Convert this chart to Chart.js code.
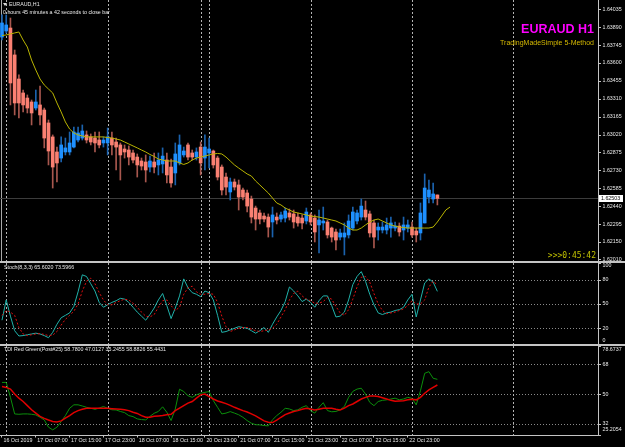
<!DOCTYPE html>
<html>
<head>
<meta charset="utf-8">
<title>EURAUD H1</title>
<script src="https://cdn.jsdelivr.net/npm/chart.js@4.4.1/dist/chart.umd.min.js"></script>
<style>
  html, body { margin: 0; padding: 0; background: #000; }
  body { position: relative; width: 625px; height: 447px; overflow: hidden; font-family: "Liberation Sans", Arial, sans-serif; }
  canvas { position: absolute; left: 0; }
  .txt { position: absolute; white-space: nowrap; line-height: 1; color: #e8e8e8; font-size: 5.3px; }
  .sep { position: absolute; left: 0; width: 625px; height: 2px; background: #c4c4c4; }
</style>
</head>
<body>
<canvas id="chartMain" width="625" height="261" style="top:0"></canvas>
<div class="sep" style="top:261px"></div>
<canvas id="chartStoch" width="625" height="81" style="top:263px"></canvas>
<div class="sep" style="top:344px"></div>
<canvas id="chartTdi" width="625" height="101" style="top:346px"></canvas>

<div style="position:absolute;left:3px;top:3px;width:0;height:0;border-left:2px solid transparent;border-right:2px solid transparent;border-top:3px solid #ddd"></div>
<div class="txt" style="left:9px;top:1.9px">EURAUD,H1</div>
<div class="txt" style="left:3px;top:10.2px">0 hours 45 minutes a 42 seconds to close bar</div>
<div class="txt" style="right:31px;top:22.7px;font-size:12.5px;font-weight:bold;color:#ff00ff">EURAUD H1</div>
<div class="txt" style="right:31px;top:39.1px;font-size:7px;color:#d4b800">TradingMadeSimple 5-Method</div>
<div class="txt" style="right:29px;top:252.2px;font-size:8px;font-family:'DejaVu Sans Mono',monospace;color:#c0c000">&gt;&gt;&gt;0:45:42</div>
<div class="txt" style="left:4px;top:264.9px">Stoch(8,3,3) 65.6020 73.5966</div>
<div class="txt" style="left:4px;top:347.4px">TDI Red Green(Post#25) 58.7800 47.0127 35.2455 58.8826 55.4431</div>

<script>
// EURAUD H1 candles, one per hour from 16 Oct 23:00 to 23 Oct 06:00
const opens = [
  1.63810, 1.63859, 1.63883, 1.63665, 1.63470, 1.63357, 1.63316, 1.63284, 1.63235, 1.63260,
  1.63219, 1.63114, 1.63001, 1.62879, 1.62830, 1.62879, 1.62879, 1.62919, 1.62976, 1.62992,
  1.63017, 1.63001, 1.62992, 1.62976, 1.62952, 1.62952, 1.62992, 1.62960, 1.62936, 1.62903,
  1.62895, 1.62871, 1.62838, 1.62806, 1.62798, 1.62757, 1.62798, 1.62774, 1.62782, 1.62814,
  1.62757, 1.62709, 1.62790, 1.62855, 1.62936, 1.62871, 1.62838, 1.62919, 1.62830, 1.62871,
  1.62887, 1.62830, 1.62757, 1.62676, 1.62555, 1.62636, 1.62612, 1.62571, 1.62547, 1.62498,
  1.62425, 1.62385, 1.62360, 1.62352, 1.62312, 1.62352, 1.62336, 1.62344, 1.62385, 1.62377,
  1.62352, 1.62344, 1.62320, 1.62369, 1.62344, 1.62288, 1.62304, 1.62312, 1.62263, 1.62231,
  1.62190, 1.62190, 1.62207, 1.62263, 1.62320, 1.62352, 1.62409, 1.62377, 1.62304, 1.62247,
  1.62247, 1.62247, 1.62263, 1.62263, 1.62279, 1.62247, 1.62263, 1.62271, 1.62239, 1.62223,
  1.62304, 1.62514, 1.62498, 1.62531
];
const highs = [
  1.63989, 1.63989, 1.63964, 1.63705, 1.63503, 1.63381, 1.63341, 1.63300, 1.63381, 1.63413,
  1.63235, 1.63138, 1.63017, 1.62919, 1.63001, 1.62992, 1.63041, 1.63081, 1.63081, 1.63098,
  1.63049, 1.63025, 1.63041, 1.63041, 1.63001, 1.63073, 1.63041, 1.62992, 1.62952, 1.62936,
  1.62928, 1.62895, 1.62863, 1.62830, 1.62855, 1.62846, 1.62871, 1.62871, 1.62912, 1.62871,
  1.62822, 1.62952, 1.63017, 1.62919, 1.62952, 1.62895, 1.62912, 1.62960, 1.63017, 1.62992,
  1.62895, 1.62846, 1.62774, 1.62709, 1.62668, 1.62660, 1.62652, 1.62587, 1.62571, 1.62522,
  1.62441, 1.62409, 1.62385, 1.62377, 1.62433, 1.62385, 1.62393, 1.62425, 1.62417, 1.62409,
  1.62385, 1.62369, 1.62425, 1.62385, 1.62369, 1.62409, 1.62433, 1.62328, 1.62271, 1.62255,
  1.62255, 1.62304, 1.62369, 1.62433, 1.62409, 1.62498, 1.62482, 1.62401, 1.62328, 1.62304,
  1.62312, 1.62344, 1.62352, 1.62312, 1.62304, 1.62352, 1.62328, 1.62312, 1.62263, 1.62466,
  1.62701, 1.62652, 1.62628, 1.62531
];
const lows = [
  1.63786, 1.63843, 1.63260, 1.63179, 1.63154, 1.63203, 1.63195, 1.63098, 1.63219, 1.63098,
  1.62912, 1.62774, 1.62587, 1.62636, 1.62798, 1.62855, 1.62855, 1.62912, 1.62960, 1.62976,
  1.62952, 1.62936, 1.62879, 1.62912, 1.62919, 1.62855, 1.62855, 1.62733, 1.62652, 1.62830,
  1.62774, 1.62790, 1.62676, 1.62733, 1.62636, 1.62717, 1.62709, 1.62693, 1.62709, 1.62628,
  1.62595, 1.62612, 1.62774, 1.62838, 1.62814, 1.62814, 1.62814, 1.62693, 1.62733, 1.62749,
  1.62749, 1.62652, 1.62531, 1.62531, 1.62490, 1.62571, 1.62409, 1.62490, 1.62393, 1.62304,
  1.62247, 1.62296, 1.62312, 1.62190, 1.62190, 1.62296, 1.62312, 1.62312, 1.62328, 1.62263,
  1.62279, 1.62255, 1.62296, 1.62288, 1.62150, 1.62061, 1.62247, 1.62182, 1.62150, 1.62085,
  1.62166, 1.62045, 1.62182, 1.62247, 1.62296, 1.62328, 1.62328, 1.62190, 1.62101, 1.62166,
  1.62223, 1.62215, 1.62190, 1.62239, 1.62198, 1.62166, 1.62231, 1.62190, 1.62150, 1.62166,
  1.62304, 1.62466, 1.62466, 1.62450
];
const closes = [
  1.63924, 1.63908, 1.63438, 1.63276, 1.63276, 1.63260, 1.63235, 1.63195, 1.63284, 1.63179,
  1.62992, 1.62887, 1.62757, 1.62790, 1.62936, 1.62912, 1.62952, 1.63041, 1.63033, 1.63049,
  1.62976, 1.62960, 1.62952, 1.62936, 1.62976, 1.63001, 1.62936, 1.62919, 1.62855, 1.62879,
  1.62838, 1.62814, 1.62774, 1.62765, 1.62733, 1.62806, 1.62757, 1.62814, 1.62846, 1.62693,
  1.62628, 1.62863, 1.62936, 1.62887, 1.62838, 1.62838, 1.62879, 1.62790, 1.62919, 1.62903,
  1.62774, 1.62676, 1.62571, 1.62595, 1.62636, 1.62595, 1.62514, 1.62514, 1.62441, 1.62352,
  1.62336, 1.62336, 1.62336, 1.62271, 1.62369, 1.62328, 1.62369, 1.62401, 1.62352, 1.62312,
  1.62304, 1.62304, 1.62393, 1.62312, 1.62231, 1.62328, 1.62320, 1.62207, 1.62190, 1.62166,
  1.62223, 1.62223, 1.62320, 1.62393, 1.62385, 1.62441, 1.62352, 1.62223, 1.62190, 1.62271,
  1.62271, 1.62288, 1.62304, 1.62279, 1.62231, 1.62288, 1.62288, 1.62207, 1.62207, 1.62385,
  1.62587, 1.62571, 1.62539, 1.62503
];

// yellow moving average (drawn shifted, so it runs 3 bars past the last candle)
const maLine = [
  1.63822, 1.63827, 1.63835, 1.63843, 1.63851, 1.63786, 1.63729, 1.63624, 1.63543, 1.63470,
  1.63422, 1.63389, 1.63357, 1.63276, 1.63203, 1.63122, 1.63065, 1.63033, 1.63017, 1.63009,
  1.63001, 1.63001, 1.63001, 1.63001, 1.63001, 1.62996, 1.62992, 1.62984, 1.62976, 1.62960,
  1.62944, 1.62928, 1.62912, 1.62895, 1.62879, 1.62859, 1.62843, 1.62822, 1.62814, 1.62806,
  1.62806, 1.62806, 1.62790, 1.62778, 1.62790, 1.62814, 1.62830, 1.62838, 1.62846, 1.62855,
  1.62863, 1.62867, 1.62863, 1.62838, 1.62806, 1.62774, 1.62749, 1.62725, 1.62701, 1.62684,
  1.62644, 1.62612, 1.62579, 1.62547, 1.62506, 1.62466, 1.62450, 1.62425, 1.62409, 1.62393,
  1.62385, 1.62377, 1.62369, 1.62360, 1.62356, 1.62352, 1.62344, 1.62336, 1.62328, 1.62320,
  1.62304, 1.62288, 1.62263, 1.62247, 1.62247, 1.62263, 1.62288, 1.62312, 1.62328, 1.62336,
  1.62320, 1.62304, 1.62288, 1.62279, 1.62271, 1.62267, 1.62263, 1.62263, 1.62263, 1.62263,
  1.62263, 1.62263, 1.62271, 1.62312, 1.62360, 1.62409, 1.62433
];

// Stoch(8,3,3)
const stochMain = [
  30, 55, 35, 17, 10.5, 11, 12, 13, 14, 13,
  11, 8.4, 15, 25, 33, 36, 39, 47, 65, 86,
  84, 75, 66, 52, 46, 49, 52, 54, 57, 56,
  52, 46, 40, 35, 30, 37, 45, 55, 63, 48,
  32, 45, 60, 81, 70, 64, 62, 59, 66, 64,
  55, 36, 15, 16, 18, 20, 22, 21, 20, 17,
  14, 17, 21, 15, 25, 34, 42, 53, 71, 66,
  60, 53, 56, 52, 46, 54, 60, 60, 48, 34,
  35, 40, 55, 74, 84, 90, 78, 62, 49, 39,
  37, 39, 40, 42, 43, 46, 55, 62, 34, 55,
  76, 81, 77, 65.602
];
const stochSignal = [
  36, 42, 40, 36, 21, 13, 11, 12, 13, 13.5,
  12.5, 11, 11.5, 16, 24, 31, 36, 41, 50, 66,
  78, 82, 75, 64, 55, 49, 49, 52, 54, 56,
  55, 51, 46, 40, 35, 34, 37, 46, 54, 55,
  48, 42, 46, 62, 70, 72, 65, 62, 62, 63,
  62, 52, 35, 22, 16, 18, 20, 21, 21, 19,
  17, 16, 17, 18, 20, 25, 34, 43, 55, 63,
  66, 60, 56, 54, 51, 51, 53, 58, 56, 47,
  39, 36, 43, 56, 71, 83, 84, 77, 63, 50,
  42, 38, 39, 40, 42, 44, 48, 54, 50, 50,
  55, 71, 78, 73.5966
];

// TDI price line (green) and trade signal (red)
const tdiGreen = [
  57, 57, 48, 38, 37.8, 38, 38, 37.8, 37.4, 36,
  34.4, 30, 28.4, 30, 33.4, 37, 41.4, 43.5, 43.5, 42.8,
  42, 41.4, 40.8, 41.5, 42.5, 41.4, 40.5, 40.4, 39.5, 38.8,
  37, 36.4, 35, 34.6, 34.4, 36.5, 38.4, 39.5, 42.3, 39,
  34, 41, 52.9, 51.5, 49, 48, 49.5, 50.5, 51, 51.5,
  46, 42, 38, 38.5, 39.4, 38.5, 37.5, 36, 34, 32.4,
  31.5, 31.4, 31, 30.8, 34.5, 37, 39, 41.4, 41, 40,
  40.5, 42, 43, 40, 38.5, 42, 44.8, 40, 39.3, 39.5,
  40.5, 42.5, 48, 51.6, 53, 53.5, 50, 45, 43, 45.5,
  46.2, 46.5, 47, 47.5, 46.5, 47, 48, 47.4, 43.5, 52,
  62.5, 63.5, 59.5, 58.8826
];
const tdiRed = [
  54.5, 54, 53, 50, 47.5, 45.5, 43, 40.5, 38.5, 36.5,
  35.3, 34.3, 33.5, 33.2, 33.8, 35.5, 37, 38.8, 40, 40.8,
  41.4, 41.4, 41.4, 41.4, 41.4, 41.4, 41.2, 41, 40.8, 40.5,
  40, 39, 38.3, 37, 36, 36, 36.6, 36.8, 37, 37.5,
  37.8, 40, 41.5, 43, 44.5, 45.5, 47.5, 49.5, 50, 48.5,
  47, 45.8, 45, 44.2, 43.2, 42, 41, 40, 39.2, 38,
  36.8, 35.3, 33.8, 33, 32.8, 34.2, 36, 37.6, 38.6, 39.5,
  40, 40.8, 41.4, 41, 40.4, 40.8, 41.4, 41.4, 41.4, 40.8,
  40.4, 41.5, 43, 44, 45.5, 47, 48, 48.8, 48.8, 48.5,
  47.8, 47, 46.2, 45.6, 45.8, 46, 46.5, 46.9, 46.5, 48,
  50.5, 52.5, 54, 55.4431
];

// scale labels
const priceTicks = [1.64035, 1.63890, 1.63745, 1.63600, 1.63455, 1.63310, 1.63165,
  1.63020, 1.62875, 1.62730, 1.62585, 1.62440, 1.62295, 1.62150, 1.62010];
const stochTicks = [100, 80, 50, 20, 0];
const stochLevels = [80, 50, 20];
const tdiTicks = [78.6737, 68, 50, 32, 25.2054];
const tdiLevels = [68, 50, 32];
const timeTickIdx = [0, 8, 16, 24, 32, 40, 48, 56, 64, 72, 80, 88, 96];
const timeTickText = ["16 Oct 2019", "17 Oct 07:00", "17 Oct 15:00", "17 Oct 23:00",
  "18 Oct 07:00", "18 Oct 15:00", "20 Oct 23:00", "21 Oct 07:00", "21 Oct 15:00",
  "21 Oct 23:00", "22 Oct 07:00", "22 Oct 15:00", "22 Oct 23:00"];
// first bar of each day (period separators)
const daySeparators = [1, 25, 47, 49, 73, 97, 121];

const BULL = "#1e90ff", BEAR = "#fa8072";
const LABEL_FONT = '5.3px "Liberation Sans", Arial, sans-serif';
const X_MIN = -0.47, X_MAX = 141;

const toPoints = (arr) => arr.map((v, i) => ({ x: i, y: v }));
const isBull = (i) => closes[i] >= opens[i];

// grid, separators, price scale labels and bid line, MT4 style
const mtPanel = {
  id: "mt",
  beforeDatasetsDraw(chart, args, opts) {
    const { ctx, chartArea: a, scales } = chart;
    ctx.save();
    ctx.lineWidth = 1;
    ctx.strokeStyle = "#8a8a8a";
    ctx.setLineDash([1, 2]);
    (opts.levels || []).forEach((v) => {
      const py = Math.round(scales.y.getPixelForValue(v)) + 0.5;
      ctx.beginPath(); ctx.moveTo(a.left, py); ctx.lineTo(a.right, py); ctx.stroke();
    });
    ctx.strokeStyle = "#b4b4b4";
    ctx.setLineDash([2, 2]);
    daySeparators.forEach((i) => {
      const px = Math.round(scales.x.getPixelForValue(i)) + 0.5;
      ctx.beginPath(); ctx.moveTo(px, a.top); ctx.lineTo(px, a.bottom); ctx.stroke();
    });
    ctx.setLineDash([]);
    if (opts.leftBorder) {
      ctx.strokeStyle = "#a8a8a8";
      ctx.beginPath(); ctx.moveTo(1.5, a.top); ctx.lineTo(1.5, a.bottom); ctx.stroke();
    }
    if (opts.bid !== undefined) {
      const py = Math.round(scales.y.getPixelForValue(opts.bid)) + 0.5;
      ctx.strokeStyle = "#3c3c3c";
      ctx.beginPath(); ctx.moveTo(a.left, py); ctx.lineTo(a.right, py); ctx.stroke();
    }
    ctx.restore();
  },
  afterDraw(chart, args, opts) {
    const { ctx, chartArea: a, scales } = chart;
    ctx.save();
    ctx.lineWidth = 1;
    ctx.strokeStyle = "#c4c4c4";
    ctx.beginPath(); ctx.moveTo(a.right + 0.5, 0); ctx.lineTo(a.right + 0.5, a.bottom + 0.5); ctx.stroke();
    ctx.font = LABEL_FONT;
    ctx.textBaseline = "middle";
    ctx.fillStyle = "#e8e8e8";
    const top = a.top + (opts.insetTop || -99), bottom = a.bottom - (opts.insetBottom || -99);
    (opts.ticks || []).forEach((v) => {
      const py = scales.y.getPixelForValue(v);
      ctx.beginPath(); ctx.moveTo(a.right, Math.round(py) + 0.5); ctx.lineTo(a.right + 3, Math.round(py) + 0.5); ctx.stroke();
      ctx.fillText(opts.format(v), a.right + 4.5, Math.min(Math.max(py, top), bottom));
    });
    if (opts.bid !== undefined) {
      const py = Math.round(scales.y.getPixelForValue(opts.bid));
      ctx.fillStyle = "#ffffff";
      ctx.fillRect(a.right + 1, py - 3, 24, 7);
      ctx.fillStyle = "#000000";
      ctx.fillText(opts.format(opts.bid), a.right + 3, py + 0.5);
    }
    ctx.restore();
  },
};

function hiddenX() {
  return {
    type: "linear", min: X_MIN, max: X_MAX, bounds: "data", offset: false,
    grid: { offset: false }, display: false,
  };
}

function rightAxis(min, max) {
  return {
    position: "right", min: min, max: max, bounds: "data", beginAtZero: false,
    afterFit: (s) => { s.width = 27; },
    ticks: { display: false },
    grid: { display: false },
    border: { display: false },
  };
}

function baseOptions(mt, scales) {
  return {
    responsive: false,
    animation: false,
    events: [],
    layout: { padding: 0 },
    plugins: { legend: { display: false }, tooltip: { enabled: false }, mt: mt },
    scales: scales,
  };
}

function chartMain() {
  // base type line so the x axis keeps the plain linear defaults; candles are floating bars
  new Chart(document.getElementById("chartMain"), {
    type: "line",
    data: {
      datasets: [
        {
          data: toPoints(maLine),
          borderColor: "#b9b400",
          borderWidth: 1,
          pointRadius: 0,
          fill: false,
          order: 0,
        },
        {
          type: "bar",
          data: opens.map((o, i) => ({ x: i, y: [o, closes[i]] })),
          backgroundColor: (c) => (isBull(c.dataIndex) ? BULL : BEAR),
          borderWidth: 0,
          barThickness: 3,
          minBarLength: 1,
          grouped: false,
          order: 1,
        },
        {
          type: "bar",
          data: lows.map((l, i) => ({ x: i, y: [l, highs[i]] })),
          backgroundColor: (c) => (isBull(c.dataIndex) ? "#1b62ad" : "#a8574e"),
          borderWidth: 0,
          barThickness: 1,
          grouped: false,
          order: 2,
        },
      ],
    },
    options: baseOptions(
      { ticks: priceTicks, format: (v) => v.toFixed(5), bid: closes[closes.length - 1], leftBorder: true },
      { x: hiddenX(), y: rightAxis(1.61996, 1.64110) }
    ),
    plugins: [mtPanel],
  });
}

function chartStoch() {
  new Chart(document.getElementById("chartStoch"), {
    type: "line",
    data: {
      datasets: [
        { data: toPoints(stochSignal), borderColor: "#e01010", borderWidth: 1, borderDash: [2, 2], pointRadius: 0, order: 0 },
        { data: toPoints(stochMain), borderColor: "#20b2aa", borderWidth: 1, pointRadius: 0, order: 1 },
      ],
    },
    options: baseOptions(
      { ticks: stochTicks, levels: stochLevels, format: (v) => String(v), insetTop: 3, insetBottom: 3 },
      { x: hiddenX(), y: rightAxis(0.617, 100.617) }
    ),
    plugins: [mtPanel],
  });
}

function chartTdi() {
  new Chart(document.getElementById("chartTdi"), {
    type: "line",
    data: {
      datasets: [
        { data: toPoints(tdiRed), borderColor: "#e00000", borderWidth: 1.5, pointRadius: 0, order: 0 },
        { data: toPoints(tdiGreen), borderColor: "#0b8f0b", borderWidth: 1, pointRadius: 0, order: 1 },
      ],
    },
    options: baseOptions(
      { ticks: tdiTicks, levels: tdiLevels, format: (v) => String(v), insetTop: 4, insetBottom: 6 },
      {
        x: {
          type: "linear", min: X_MIN, max: X_MAX, bounds: "data", offset: false,
          afterBuildTicks: (s) => { s.ticks = timeTickIdx.map((v) => ({ value: v })); },
          afterFit: (s) => { s.height = 11.5; },
          ticks: {
            autoSkip: false, maxRotation: 0, align: "start", labelOffset: 1.5, padding: 0,
            color: "#e8e8e8", font: { family: "Liberation Sans", size: 5.3 },
            callback: (v, i) => timeTickText[i],
          },
          grid: { drawOnChartArea: false, drawTicks: true, tickLength: 2, offset: false, color: "#c4c4c4", tickColor: "#c4c4c4" },
          border: { display: true, color: "#c4c4c4" },
        },
        y: rightAxis(24.994, 78.975),
      }
    ),
    plugins: [mtPanel],
  });
}

chartMain();
chartStoch();
chartTdi();
</script>
</body>
</html>
